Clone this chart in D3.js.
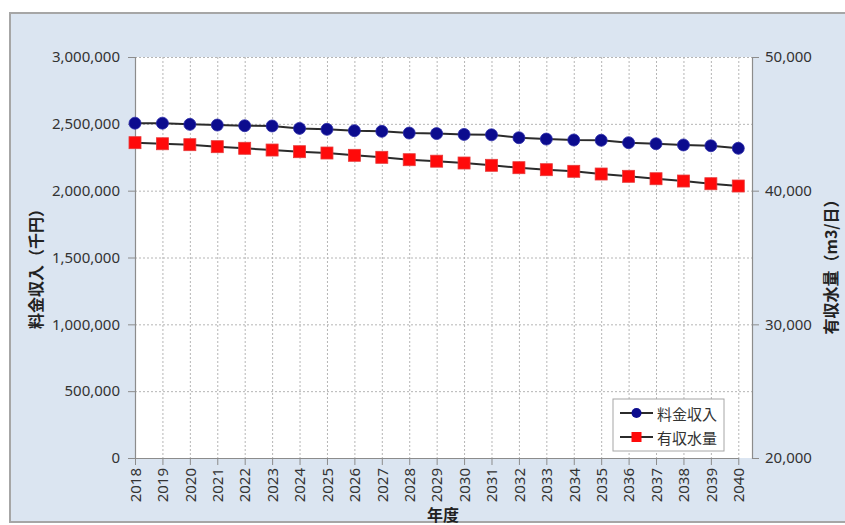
<!DOCTYPE html>
<html>
<head>
<meta charset="utf-8">
<script src="https://cdn.jsdelivr.net/npm/d3@7/dist/d3.min.js"></script>
<style>
  html, body { margin: 0; padding: 0; background: #fff; }
  svg { display: block; }
</style>
</head>
<body>
<svg id="chart" width="845" height="525"></svg>
<script>
// Fiscal years on the category axis
const years = ["2018","2019","2020","2021","2022","2023","2024","2025","2026","2027","2028",
               "2029","2030","2031","2032","2033","2034","2035","2036","2037","2038","2039","2040"];

// 料金収入 (千円) — left axis
const revenue = [2505000, 2505000, 2496000, 2491000, 2486000, 2484000, 2466000, 2459000,
                 2449000, 2444000, 2431000, 2427000, 2421000, 2418000, 2396000, 2386000,
                 2379000, 2377000, 2359000, 2351000, 2342000, 2336000, 2317000];

// 有収水量 (m3/日) — right axis
const volume = [43590, 43510, 43440, 43290, 43170, 43040, 42915, 42817, 42645, 42495, 42316,
                42205, 42069, 41897, 41718, 41568, 41448, 41246, 41074, 40893, 40721, 40520, 40348];

const leftTicks = [0, 500000, 1000000, 1500000, 2000000, 2500000, 3000000];
const rightTicks = [20000, 30000, 40000, 50000];

const seriesNames = ["料金収入", "有収水量"];
const leftTitle = "料金収入（千円）";
const rightTitle = "有収水量（m3/日）";
const xTitle = "年度";

const svg = d3.select("#chart");
const latin = "'Noto Sans', 'Noto Sans CJK JP', sans-serif";
const cjk = "'Noto Sans CJK JP', 'Noto Sans', sans-serif";

// Chart frame
svg.append("rect")
  .attr("x", 10).attr("y", 13).attr("width", 860).attr("height", 509)
  .attr("fill", "#dbe5f1").attr("stroke", "#a6a6a6").attr("stroke-width", 2);

const plot = { left: 135, right: 752, top: 57, bottom: 458 };

const step = (plot.right - plot.left) / 22.5;
const x = d3.scalePoint().domain(years).range([plot.left, plot.left + step * 22]);
const yL = d3.scaleLinear().domain([0, 3000000]).range([plot.bottom, plot.top]);
const yR = d3.scaleLinear().domain([20000, 50000]).range([plot.bottom, plot.top]);

// Plot area
svg.append("rect")
  .attr("x", plot.left).attr("y", plot.top)
  .attr("width", plot.right - plot.left).attr("height", plot.bottom - plot.top)
  .attr("fill", "#fff");

// Dotted grid
const grid = svg.append("g")
  .attr("stroke", "#b5b5b5").attr("stroke-width", 1).attr("stroke-dasharray", "2,2");
grid.selectAll("line.h").data(leftTicks.slice(1)).join("line")
  .attr("x1", plot.left).attr("x2", plot.right)
  .attr("y1", d => yL(d) + 0.5).attr("y2", d => yL(d) + 0.5);
grid.selectAll("line.v").data(years.slice(1)).join("line")
  .attr("x1", d => x(d) + 0.5).attr("x2", d => x(d) + 0.5)
  .attr("y1", plot.top).attr("y2", plot.bottom);

// Axes
const fmt = d3.format(",");
const axisColor = "#8c8c8c";

const gL = svg.append("g").attr("transform", `translate(${plot.left},0)`)
  .call(d3.axisLeft(yL).tickValues(leftTicks).tickFormat(fmt).tickSize(7).tickPadding(8));
const gR = svg.append("g").attr("transform", `translate(${plot.right},0)`)
  .call(d3.axisRight(yR).tickValues(rightTicks).tickFormat(fmt).tickSize(7).tickPadding(6));
const gB = svg.append("g").attr("transform", `translate(0,${plot.bottom})`)
  .call(d3.axisBottom(x).tickSize(7).tickSizeOuter(0));

[gL, gR, gB].forEach(g => {
  g.select(".domain").attr("stroke", axisColor).attr("stroke-width", 1.2);
  g.selectAll(".tick line").attr("stroke", axisColor);
  g.selectAll("text").attr("font-family", latin).attr("font-size", 15).attr("fill", "#333");
});
gB.selectAll(".tick text")
  .attr("transform", "rotate(-90)")
  .attr("text-anchor", "end")
  .attr("x", -10).attr("y", 0).attr("dy", "0.35em");

// Axis titles
svg.append("text")
  .attr("transform", "translate(35,265) rotate(-90)")
  .attr("text-anchor", "middle").attr("dominant-baseline", "central")
  .attr("font-family", cjk).attr("font-weight", "bold").attr("font-size", 16).attr("fill", "#222")
  .text(leftTitle);
svg.append("text")
  .attr("transform", "translate(830,263) rotate(-90)")
  .attr("text-anchor", "middle").attr("dominant-baseline", "central")
  .attr("font-family", cjk).attr("font-weight", "bold").attr("font-size", 16).attr("fill", "#222")
  .text(rightTitle);
svg.append("text")
  .attr("x", 443).attr("y", 514)
  .attr("text-anchor", "middle").attr("dominant-baseline", "central")
  .attr("font-family", cjk).attr("font-weight", "bold").attr("font-size", 16).attr("fill", "#222")
  .text(xTitle);

// Series lines
const lineColor = "#2b2b2b";
const revLine = d3.line().x((d, i) => x(years[i])).y(d => yL(d));
const volLine = d3.line().x((d, i) => x(years[i])).y(d => yR(d));

svg.append("path").datum(revenue).attr("d", revLine)
  .attr("fill", "none").attr("stroke", lineColor).attr("stroke-width", 2);
svg.append("path").datum(volume).attr("d", volLine)
  .attr("fill", "none").attr("stroke", lineColor).attr("stroke-width", 2);

// Markers
const blue = "#0c0c8e";
const red = "#ff0a0a";
const sq = 12;
svg.append("g").selectAll("circle").data(revenue).join("circle")
  .attr("cx", (d, i) => x(years[i])).attr("cy", d => yL(d)).attr("r", 6)
  .attr("fill", blue).attr("stroke", "#2a2aa8").attr("stroke-width", 0.8);
svg.append("g").selectAll("rect").data(volume).join("rect")
  .attr("x", (d, i) => x(years[i]) - sq / 2).attr("y", d => yR(d) - sq / 2)
  .attr("width", sq).attr("height", sq)
  .attr("fill", red).attr("stroke", "#e83a3a").attr("stroke-width", 0.8);

// Legend
const lg = svg.append("g");
lg.append("rect").attr("x", 613).attr("y", 399).attr("width", 111).attr("height", 52)
  .attr("fill", "#fff").attr("stroke", "#a6a6a6").attr("stroke-width", 1);
const rows = [{ y: 413, kind: "circle" }, { y: 437, kind: "square" }];
rows.forEach((r, i) => {
  lg.append("line").attr("x1", 620).attr("x2", 653).attr("y1", r.y).attr("y2", r.y)
    .attr("stroke", lineColor).attr("stroke-width", 2);
  if (r.kind === "circle") {
    lg.append("circle").attr("cx", 636.5).attr("cy", r.y).attr("r", 5).attr("fill", blue);
  } else {
    lg.append("rect").attr("x", 631.5).attr("y", r.y - 5).attr("width", 10).attr("height", 10).attr("fill", red);
  }
  lg.append("text").attr("x", 657).attr("y", r.y).attr("dominant-baseline", "central")
    .attr("font-family", cjk).attr("font-size", 15).attr("fill", "#333")
    .text(seriesNames[i]);
});
</script>
</body>
</html>
